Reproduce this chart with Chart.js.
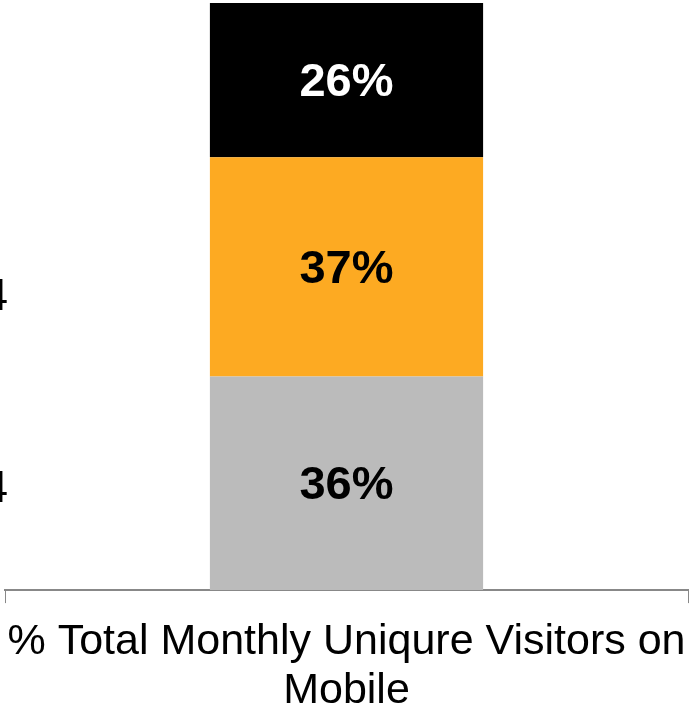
<!DOCTYPE html>
<html>
<head>
<meta charset="utf-8">
<script src="https://cdn.jsdelivr.net/npm/chart.js@4.4.0/dist/chart.umd.min.js"></script>
<style>
  html, body { margin: 0; background: #fff; overflow: hidden; }
  #wrap { width: 689px; height: 707px; overflow: hidden; }
</style>
</head>
<body>
<div id="wrap"><canvas id="BarChart" width="689" height="730"></canvas></div>
<script>
// Data
var categories = [['% Total Monthly Uniqure Visitors on', 'Mobile']];
var seriesNames = ['2014', '2014 ', 'Other'];   // bottom -> top (legend text is cut off at the left edge)
var seriesValues = [[36], [37], [26]];
var seriesColors = ['#BBBBBB', '#FDAA22', '#000000'];
var labelColors = ['#000000', '#000000', '#FFFFFF'];
var sideLabels = ['2014', '2014'];   // only the last digit shows at the left edge
var sideLabelY = [298, 490];

// Draws the % values inside the segments
var valueLabels = {
    id: 'valueLabels',
    afterDatasetsDraw: function(chart) {
        var ctx = chart.ctx;
        ctx.save();
        ctx.font = 'bold 47px "Liberation Sans", Arial, sans-serif';
        ctx.textAlign = 'center';
        ctx.textBaseline = 'middle';
        chart.data.datasets.forEach(function(ds, i) {
            var meta = chart.getDatasetMeta(i);
            meta.data.forEach(function(bar, j) {
                ctx.fillStyle = labelColors[i];
                ctx.fillText(ds.data[j] + '%', bar.x, (bar.y + bar.base) / 2 + 3);
            });
        });
        // cut-off labels at the left edge
        ctx.font = '44px "Liberation Sans", Arial, sans-serif';
        ctx.textAlign = 'right';
        ctx.fillStyle = '#000';
        sideLabels.forEach(function(t, k) {
            ctx.fillText(t, 8, sideLabelY[k]);
        });
        ctx.restore();
    }
};

var ctx = document.getElementById('BarChart').getContext('2d');
var BarChart = new Chart(ctx, {
    type: 'bar',
    data: {
        labels: categories,
        datasets: seriesValues.map(function(vals, i) {
            return {
                label: seriesNames[i],
                data: vals,
                backgroundColor: seriesColors[i],
                borderWidth: 0,
                barPercentage: 0.4,
                categoryPercentage: 1.0
            };
        })
    },
    options: {
        responsive: false,
        animation: false,
        layout: { padding: { top: 3, left: 5, right: 1, bottom: 0 } },
        scales: {
            x: {
                stacked: true,
                // the long label fits inside the plot width, so drop the side padding
                afterFit: function(scale) {
                    scale.paddingLeft = 0;
                    scale.paddingRight = 0;
                },
                grid: {
                    offset: true,
                    drawOnChartArea: false,
                    drawTicks: true,
                    tickLength: 13,
                    color: '#888888',
                    lineWidth: 1
                },
                border: { display: true, color: '#888888', width: 2 },
                ticks: {
                    color: '#000',
                    maxRotation: 0,
                    padding: 14,
                    font: { family: '"Liberation Sans", Arial, sans-serif', size: 43, lineHeight: 1.15 }
                }
            },
            y: {
                stacked: true,
                display: false,
                min: 0,
                max: 99
            }
        },
        plugins: {
            legend: { display: false },
            tooltip: { enabled: false }
        }
    },
    plugins: [valueLabels]
});
</script>
</body>
</html>
